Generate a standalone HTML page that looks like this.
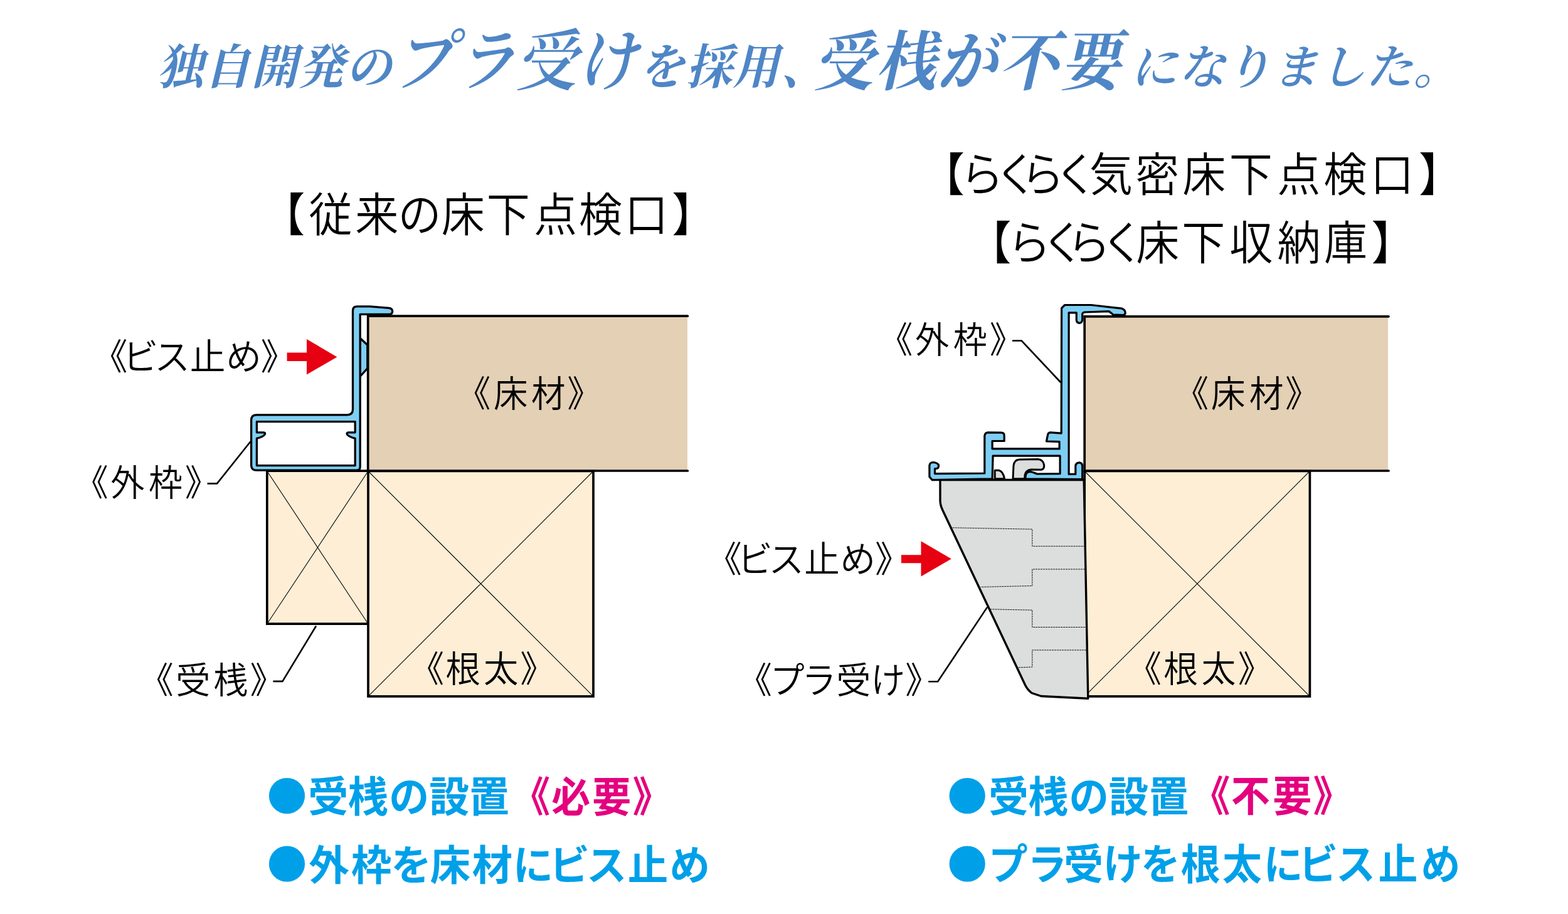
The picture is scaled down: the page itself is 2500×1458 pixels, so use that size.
<!DOCTYPE html>
<html lang="ja">
<head>
<meta charset="utf-8">
<title>プラ受け</title>
<style>
html,body{margin:0;padding:0;background:#fff;}
body{width:2500px;height:1458px;overflow:hidden;}
svg{display:block;}
text{font-family:"Liberation Sans", "Noto Sans CJK JP", "Noto Sans CJK SC", sans-serif;}
.ti{font-family:"Liberation Serif", "Noto Serif CJK JP", "Noto Serif CJK SC", serif;font-style:italic;font-weight:700;fill:#4F86C6;}
.tm{font-family:"Liberation Serif", "Noto Serif CJK JP", "Noto Serif CJK SC", serif;font-style:italic;font-weight:600;fill:#4F86C6;}
.tl{font-family:"Liberation Serif", "Noto Serif CJK JP", "Noto Serif CJK SC", serif;font-style:italic;font-weight:500;fill:#4F86C6;}
.hd{font-weight:350;fill:#000;}
.lb{font-weight:350;fill:#000;}
.bt{font-weight:700;fill:#00A0E9;}
.bm{font-weight:700;fill:#E4007F;}
.thin{stroke:#000;stroke-width:1.1;fill:none;}
.ln{stroke:#000;stroke-width:3.7;fill:none;stroke-linejoin:miter;}
.ld{stroke:#000;stroke-width:2.6;fill:none;}
.blue{fill:#7ECEF4;stroke:#000;stroke-width:3.3;stroke-linejoin:round;}
.blue2{fill:#7ECEF4;stroke:#000;stroke-width:3.2;stroke-linejoin:round;}
.gray{fill:#DCDDDD;stroke:#000;stroke-width:3.4;stroke-linejoin:round;}
.gray2{fill:#DCDDDD;stroke:#000;stroke-width:3;stroke-linejoin:round;}
.dash{stroke:#000;stroke-width:0.9;fill:none;stroke-dasharray:3.1 0.9;}
</style>
</head>
<body>
<svg width="2500" height="1458" viewBox="0 0 2500 1458">
<rect width="2500" height="1458" fill="#fff"/>
<text class="ti" transform="scale(0.9550 1)" x="262.7 340.9 419.7 498.0 576.9" y="134.1" font-size="76.6" >独自開発の</text>
<text class="tm" transform="scale(0.9098 1)" x="688.3 797.2 903.4 1009.4" y="134.9" font-size="107.5" >プラ受け</text>
<text class="ti" transform="scale(0.9575 1)" x="1063.7 1142.6 1220.4 1300.3" y="134.1" font-size="76.6" >を採用、</text>
<text class="ti" transform="scale(0.9206 1)" x="1409.2 1517.1 1623.2 1729.7 1836.5" y="134.7" font-size="103.7" >受桟が不要</text>
<text class="tm" x="1801.7 1878.4 1951.7 2027.2 2102.2 2177.5 2253.2" y="134.4" font-size="75.6" >になりました。</text>
<text class="hd" transform="scale(0.9400 1)" x="443.9 524.0 602.4 675.0 748.6 825.3 905.3 982.0 1059.7 1139.6" y="368.8" font-size="73.5" >【従来の床下点検口】</text>
<text class="hd" transform="scale(0.9400 1)" x="1562.7 1629.1 1687.0 1732.0 1788.2 1847.6 1926.1 2005.5 2084.8 2166.3 2245.0 2324.6 2406.3" y="304.7" font-size="73.5" >【らくらく気密床下点検口】</text>
<text class="hd" transform="scale(0.9400 1)" x="1642.1 1709.0 1766.4 1810.5 1867.6 1927.0 2004.6 2085.4 2166.4 2245.7 2326.1" y="413.9" font-size="73.5" >【らくらく床下収納庫】</text>
<path d="M1096 504.2H586.7V751H1096Z" fill="#E4D0B5"/>
<rect x="587" y="751.5" width="359" height="359.3" fill="#FEEED6"/>
<rect x="425.8" y="751.5" width="161" height="243.7" fill="#FEEED6"/>
<path d="M425.8 751.5L587 995.2M587 751.5L425.8 995.2M587 751.5L946 1110.8M946 751.5L587 1110.8" class="thin"/>
<path d="M587 751.5H946V1110.8H587V750.8 M587 751.2H425.8V995.2H587" class="ln"/>
<path d="M1096.4 504.2H586.7V751H1096.4" class="ln" stroke-linecap="round"/>
<path class="blue" d="M 574.2 539.5 L 585.8 550.2 L 585.8 587.7 L 574.2 600.5 Z"/>
<path fill-rule="evenodd" class="blue" d="M 562.5 495.7 Q 562.5 488.9 569.3 488.9 L 589.9 488.9 L 620.3 491.4 Q 625.7 492.2 625.7 496.7 Q 625.7 501.3 620.7 501.3 L 574.2 501.3 L 574.2 744.7 Q 574.2 750.2 568.3 750.2 L 408.8 750.2 Q 400.6 750.2 400.6 742.0 L 400.6 670.0 Q 400.6 661.8 408.8 661.8 L 553.9 661.8 Q 562.5 661.8 562.5 653.1 Z M 409.4 672.7 L 566.2 672.7 L 566.2 689.8 L 555.9 689.8 Q 552.4 689.8 553.3 692.6 Q 554.9 696.3 566.2 699.4 L 566.2 742.6 L 409.4 742.6 L 409.4 699.4 Q 420.7 696.3 422.4 692.6 Q 423.2 689.8 419.7 689.8 L 409.4 689.8 Z"/>
<text class="lb" transform="scale(0.9863 1)" x="148.9 198.6 249.6 307.0 365.2 421.4" y="590.2" font-size="57.5" >《ビス止め》</text>
<text class="lb" transform="scale(0.9416 1)" x="125.8 187.1 251.6 313.1" y="790.8" font-size="57.5" >《外枠》</text>
<text class="lb" transform="scale(0.9591 1)" x="230.9 292.2 354.8 415.5" y="1105.8" font-size="57.6" >《受桟》</text>
<text class="lb" transform="scale(0.9618 1)" x="678.6 738.8 801.7 862.1" y="1088.1" font-size="57.6" >《根太》</text>
<text class="lb" transform="scale(0.9490 1)" x="766.8 829.2 892.5 952.9" y="648.6" font-size="57.5" >《床材》</text>
<path d="M330.6 771.4H346L399.5 704.2" class="ld"/>
<path d="M435.4 1086.9H450.4L504 998.5" class="ld"/>
<path d="M457.6 562.6H489V541L537.4 569.4L489 597.6V576H457.6Z" fill="#E60012"/>
<path d="M2213 504.8H1729.2V751H2213Z" fill="#E4D0B5"/>
<rect x="1729.2" y="751.5" width="359.2" height="359.3" fill="#FEEED6"/>
<path d="M1729.2 751.5L2088.4 1110.8M2088.4 751.5L1729.2 1110.8" class="thin"/>
<path d="M1729.2 751.5H2088.4V1110.8H1729.2V751" class="ln"/>
<path d="M2214 504.8H1729.2V751H2214" class="ln" stroke-linecap="round"/>
<path d="M1499 765.5 H1728.2 L1734.8 1114.2 L1660 1110.5 L1645 1105.5 Q1638 1100 1634.8 1093.3 L1503 814 Q1499 806 1499 798 Z" class="gray"/>
<path d="M1518.5 841.8L1645.8 844.2V871.3H1729.5 M1730 908H1645.8V934.5L1563.5 936.4 M1578.5 971.8L1645.8 973.2V1000.5H1731 M1732 1037H1645.8V1064L1624 1064.8" class="dash"/>
<path class="gray2" d="M 1586.2 763.8 L 1586.2 750.2 L 1592.4 750.2 Q 1599.2 751.5 1601.6 763.8 Z"/>
<path class="gray2" d="M 1615.0 763.8 L 1616.0 742.6 Q 1617.1 733.4 1625.3 733.0 L 1655.1 732.6 Q 1663.0 733.4 1664.6 741.6 Q 1665.4 748.2 1660.3 749.2 L 1643.8 749.0 Q 1635.6 750.2 1634.2 757.0 L 1633.5 763.8 Z"/>
<path class="blue2" d="M 1692.6 491.6 L 1697.7 486.5 L 1739.5 486.5 L 1788.9 492.2 Q 1794.2 494.3 1794.2 499.2 Q 1793.8 502.5 1790.5 502.5 L 1774.9 502.1 L 1768.3 496.7 L 1729.2 498.0 Q 1726.1 498.4 1725.7 501.3 L 1725.7 510.1 Q 1725.1 515.3 1720.6 515.3 Q 1716.5 514.9 1716.3 510.1 L 1716.3 498.8 L 1704.1 498.8 L 1704.1 756.4 L 1714.8 756.4 L 1714.8 743.7 Q 1715.2 738.3 1720.6 737.9 Q 1725.7 738.3 1725.7 743.7 L 1725.7 764.7 L 1634.6 763.8 L 1635.6 757.0 Q 1637.7 752.3 1642.4 752.3 Q 1645.9 752.7 1653.5 756.0 L 1690.1 755.6 L 1690.1 727.2 L 1583.1 727.2 L 1582.1 763.8 L 1486.4 765.7 L 1481.9 760.5 L 1481.9 742.6 Q 1482.3 737.9 1487.4 737.5 Q 1492.6 737.5 1496.3 741.2 Q 1497.1 744.7 1495.1 747.0 L 1490.5 747.8 L 1490.5 755.6 L 1569.8 755.0 L 1569.8 695.3 Q 1570.4 690.2 1574.9 689.8 L 1596.5 690.2 Q 1601.2 690.6 1601.2 694.7 L 1601.2 703.5 L 1582.1 703.5 L 1582.1 715.9 L 1689.1 715.9 L 1689.1 704.6 L 1668.5 704.0 L 1670.6 693.3 Q 1671.2 689.8 1675.3 689.8 L 1692.2 691.2 Z"/>
<text class="lb" transform="scale(0.9543 1)" x="1962.0 2023.2 2087.1 2147.2" y="648.6" font-size="57.5" >《床材》</text>
<text class="lb" transform="scale(0.9525 1)" x="1886.8 1947.8 2010.9 2072.2" y="1087.6" font-size="57.5" >《根太》</text>
<text class="lb" transform="scale(0.9416 1)" x="1488.2 1549.6 1614.0 1675.6" y="563.5" font-size="57.5" >《外枠》</text>
<text class="lb" transform="scale(0.9845 1)" x="1144.1 1194.0 1244.9 1302.4 1360.7 1416.9" y="912.7" font-size="57.5" >《ビス止め》</text>
<text class="lb" transform="scale(0.9553 1)" x="1231.0 1285.3 1338.4 1395.9 1453.3 1510.8" y="1105.7" font-size="57.5" >《プラ受け》</text>
<path d="M1614 543.5H1628.8L1691.2 610" class="ld"/>
<path d="M1480.2 1087.3H1495.2L1574 968.6" class="ld"/>
<path d="M1437 885.3H1468.5V863.3L1516.8 891.4L1468.5 919.6V898.2H1437Z" fill="#E60012"/>
<circle cx="457.5" cy="1269.5" r="28.6" fill="#00A0E9"/>
<circle cx="457.5" cy="1378" r="28.6" fill="#00A0E9"/>
<text class="bt" transform="scale(0.9601 1)" x="511.8 577.8 646.1 712.6 779.2" y="1295.4" font-size="66.7" >受桟の設置</text>
<text class="bm" transform="scale(0.9339 1)" x="872.9 941.5 1011.2 1079.8" y="1295.1" font-size="66.4" >《必要》</text>
<text class="bt" transform="scale(0.9713 1)" x="506.8 576.3 641.9 705.8 775.1 841.9 901.5 962.6 1030.4 1099.1" y="1403.9" font-size="66.4" >外枠を床材にビス止め</text>
<circle cx="1542.2" cy="1269.5" r="28.6" fill="#00A0E9"/>
<circle cx="1542.2" cy="1378" r="28.6" fill="#00A0E9"/>
<text class="bt" transform="scale(0.9435 1)" x="1670.7 1737.8 1806.6 1873.6 1941.5" y="1294.8" font-size="67.3" >受桟の設置</text>
<text class="bm" transform="scale(0.9266 1)" x="2049.6 2118.2 2190.0 2259.3" y="1294.5" font-size="67.0" >《不要》</text>
<text class="bt" transform="scale(0.9332 1)" x="1688.7 1755.4 1817.6 1885.0 1949.1 2017.6 2088.4 2159.0 2218.8 2282.8 2354.7 2427.7" y="1403.1" font-size="67.3" >プラ受けを根太にビス止め</text>
</svg>
</body>
</html>
